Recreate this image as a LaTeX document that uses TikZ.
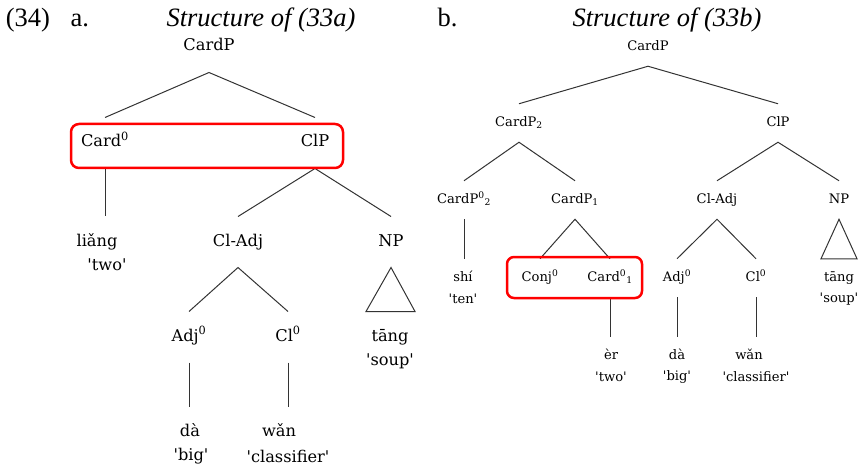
\documentclass[tikz,border=0pt]{standalone}
\usepackage{fontspec}
\setmainfont{Liberation Serif}
\newfontfamily\treefont{DejaVu Serif}
\usetikzlibrary{calc}
\newcommand{\gl}[1]{\textquotesingle#1\textquotesingle}

\begin{document}
\begin{tikzpicture}[x=1pt, y=-1pt, line width=1pt,
    every node/.style={inner sep=0pt},
    cata/.style={font=\treefont\fontsize{16.2}{19}\selectfont, text height=11pt, text depth=3pt, inner ysep=18pt, inner xsep=1pt},
    catb/.style={font=\treefont\fontsize{13.1}{15}\selectfont, text height=9pt, text depth=2.5pt, inner ysep=13pt, inner xsep=1pt},
    glossa/.style={font=\treefont\fontsize{16.2}{19}\selectfont},
    glossb/.style={font=\treefont\fontsize{13.1}{15}\selectfont},
    title/.style={font=\fontsize{26.5}{30}\selectfont, anchor=base},
    hilite/.style={draw=red, line width=2.5pt, rounded corners=8pt},
    branch/.style={draw=black!80}]
    \useasboundingbox (0,0) rectangle (858,470);

    % headings
    \node[title] (exnum) at (28,27) {(34)};
    \node[title, anchor=base west] (suba) at (70,27) {a.};
    \node[title] (titlea) at (261,27) {\itshape Structure of (33a)};
    \node[title, anchor=base west] (subb) at (437,27) {b.};
    \node[title] (titleb) at (667,27) {\itshape Structure of (33b)};

    % tree a
    \node[cata] (cardpA) at (209,47) {CardP};
    \node[cata] (card0) at (105,143) {Card\textsuperscript{0}};
    \node[cata] (clpA) at (315,143) {ClP};
    \node[cata] (liang) at (97,242) {liǎng};
    \node[glossa] (twoA) at (107,265) {\gl{two}};
    \node[cata] (cladjA) at (238,242) {Cl-Adj};
    \node[cata] (npA) at (391,242) {NP};
    \node[cata] (adjA) at (189,337) {Adj\textsuperscript{0}};
    \node[cata] (clA) at (288,337) {Cl\textsuperscript{0}};
    \node[cata] (tangA) at (390,337) {tāng};
    \node[glossa] (soupA) at (390,361) {\gl{soup}};
    \node[cata] (daA) at (190,432) {dà};
    \node[glossa] (bigA) at (191,456) {\gl{big}};
    \node[cata] (wanA) at (279,432) {wǎn};
    \node[glossa] (classA) at (288,456) {\gl{classifier}};

    \draw[branch] (card0.north) -- (cardpA.south) -- (clpA.north);
    \draw[branch] (card0.south) -- (card0.south |- liang.north);
    \draw[branch] (cladjA.north) -- (clpA.south) -- (npA.north);
    \draw[branch] (adjA.north) -- (cladjA.south) -- (clA.north);
    \draw[branch] (adjA.south) -- (adjA.south |- daA.north);
    \draw[branch] (clA.south) -- (clA.south |- wanA.north);
    \draw[branch] (npA.south) -- ($(tangA.north)+(-24,0)$) -- ($(tangA.north)+(25,0)$) -- cycle;

    \draw[hilite] (71,124) rectangle (343,168);

    % tree b
    \node[catb] (cardpB) at (648,47) {CardP};
    \node[catb] (cardp2) at (519,123) {CardP\textsubscript{2}};
    \node[catb] (clpB) at (778,123) {ClP};
    \node[catb] (cardp02) at (464,200) {CardP\textsuperscript{0}\textsubscript{2}};
    \node[catb] (cardp1) at (575,200) {CardP\textsubscript{1}};
    \node[catb] (cladjB) at (717,200) {Cl-Adj};
    \node[catb] (npB) at (839,200) {NP};
    \node[catb] (shi) at (463,278) {shí};
    \node[glossb] (tenB) at (463,299) {\gl{ten}};
    \node[catb] (conj) at (540,278) {Conj\textsuperscript{0}};
    \node[catb] (card01) at (610,278) {Card\textsuperscript{0}\textsubscript{1}};
    \node[catb] (adjB) at (677,278) {Adj\textsuperscript{0}};
    \node[catb] (clB) at (756,278) {Cl\textsuperscript{0}};
    \node[catb] (tangB) at (839,278) {tāng};
    \node[glossb] (soupB) at (839,299) {\gl{soup}};
    \node[catb] (er) at (611,356) {èr};
    \node[glossb] (twoB) at (611,377) {\gl{two}};
    \node[catb] (daB) at (677,356) {dà};
    \node[glossb] (bigB) at (677,377) {\gl{big}};
    \node[catb] (wanB) at (749,356) {wǎn};
    \node[glossb] (classB) at (756,377) {\gl{classifier}};

    \draw[branch] (cardp2.north) -- (cardpB.south) -- (clpB.north);
    \draw[branch] (cardp02.north) -- (cardp2.south) -- (cardp1.north);
    \draw[branch] (cladjB.north) -- (clpB.south) -- (npB.north);
    \draw[branch] (cardp02.south) -- (cardp02.south |- shi.north);
    \draw[branch] (conj.north) -- (cardp1.south) -- (card01.north);
    \draw[branch] (adjB.north) -- (cladjB.south) -- (clB.north);
    \draw[branch] (card01.south) -- (card01.south |- er.north);
    \draw[branch] (adjB.south) -- (adjB.south |- daB.north);
    \draw[branch] (clB.south) -- (clB.south |- wanB.north);
    \draw[branch] (npB.south) -- ($(tangB.north)+(-18,0)$) -- ($(tangB.north)+(18,0)$) -- cycle;

    \draw[hilite, rounded corners=7pt] (507,257) rectangle (642,298);
\end{tikzpicture}
\end{document}
